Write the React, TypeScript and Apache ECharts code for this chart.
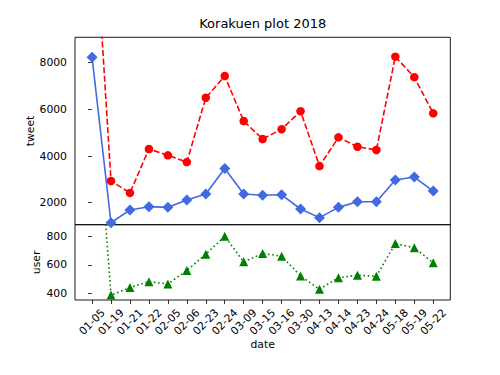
import React, { useEffect, useRef } from "react";
import * as echarts from "echarts";

const categories = [
  "01-05", "01-19", "01-21", "01-22", "02-05", "02-06", "02-23", "02-24", "03-09", "03-15",
  "03-16", "03-30", "04-13", "04-14", "04-23", "04-24", "05-18", "05-19", "05-22",
];
const tweetRed = [
  15900, 2930, 2420, 4300, 4030, 3740, 6500, 7430, 5500, 4730,
  5150, 5920, 3570, 4800, 4400, 4260, 8260, 7380, 5830,
];
const tweetBlue = [
  8230, 1140, 1690, 1830, 1800, 2120, 2370, 3470, 2370, 2320,
  2340, 1730, 1360, 1800, 2040, 2040, 2970, 3100, 2500,
];
const users = [
  2150, 388, 440, 482, 466, 560, 675, 800, 621, 680,
  661, 522, 428, 510, 527, 520, 750, 720, 614,
];
const tweetTicks = [2000, 4000, 6000, 8000];
const userTicks = [400, 600, 800];

const FONT = "DejaVu Sans";
const TXT = "#000";

export default function App() {
  const ref = useRef<HTMLDivElement>(null);
  useEffect(() => {
    document.body.style.margin = "0";
    const chart = echarts.init(ref.current!, null, { renderer: "svg" });
    const idx = categories.map((_, i) => i);
    const toPairs = (arr: number[]) => arr.map((v, i) => [i, v]);
    const tickStyle = { show: true, inside: false, length: 4, lineStyle: { color: "#000", width: 0.8 } };
    const gridBase = {
      left: 75,
      width: 375.3,
      show: true,
      borderColor: "#000",
      borderWidth: 0.9,
      backgroundColor: "transparent",
      containLabel: false,
      outerBoundsMode: "none",
    };
    const nameStyle = { fontFamily: FONT, fontSize: 10.8, color: TXT };
    chart.setOption({
      animation: false,
      textStyle: { fontFamily: FONT },
      title: {
        text: "Korakuen plot 2018",
        left: 262.7,
        top: 17,
        padding: 0,
        textAlign: "center",
        textStyle: { fontFamily: FONT, fontSize: 13, fontWeight: "normal", color: TXT },
      },
      grid: [
        { ...gridBase, top: 37.3, height: 187.4 },
        { ...gridBase, top: 224.7, height: 75.3 },
      ],
      xAxis: [
        {
          type: "value",
          gridIndex: 0,
          min: -0.9,
          max: 18.9,
          axisLine: { show: false },
          axisTick: { show: false },
          axisLabel: { show: false },
          splitLine: { show: false },
        },
        {
          type: "value",
          gridIndex: 1,
          min: -0.9,
          max: 18.9,
          name: "date",
          nameLocation: "middle",
          nameGap: 39,
          nameMoveOverlap: false,
          nameTextStyle: nameStyle,
          axisLine: { show: false },
          axisTick: { ...tickStyle, customValues: idx },
          axisLabel: {
            customValues: idx,
            formatter: (v: number) => categories[Math.round(v)] ?? "",
            rotate: 45,
            align: "center",
            verticalAlign: "middle",
            margin: 22,
            fontFamily: FONT,
            fontSize: 10.8,
            color: TXT,
            showMinLabel: true,
            showMaxLabel: true,
          },
          splitLine: { show: false },
        },
      ],
      yAxis: [
        {
          type: "value",
          gridIndex: 0,
          min: 1057,
          max: 9089,
          name: "tweet",
          nameLocation: "middle",
          nameGap: 39.5,
          nameRotate: 90,
          nameMoveOverlap: false,
          nameTextStyle: nameStyle,
          axisLine: { show: false },
          axisTick: { ...tickStyle, customValues: tweetTicks },
          axisLabel: {
            customValues: tweetTicks,
            formatter: (v: number) => String(v),
            margin: 8,
            fontFamily: FONT,
            fontSize: 10.8,
            color: TXT,
          },
          splitLine: { show: false },
        },
        {
          type: "value",
          gridIndex: 1,
          min: 353,
          max: 882,
          name: "user",
          nameLocation: "middle",
          nameGap: 33.5,
          nameRotate: 90,
          nameMoveOverlap: false,
          nameTextStyle: nameStyle,
          axisLine: { show: false },
          axisTick: { ...tickStyle, customValues: userTicks },
          axisLabel: {
            customValues: userTicks,
            formatter: (v: number) => String(v),
            margin: 8,
            fontFamily: FONT,
            fontSize: 10.8,
            color: TXT,
          },
          splitLine: { show: false },
        },
      ],
      series: [
        {
          name: "tweet",
          type: "line",
          xAxisIndex: 0,
          yAxisIndex: 0,
          data: toPairs(tweetRed),
          clip: true,
          symbol: "circle",
          symbolSize: 8.5,
          lineStyle: { color: "#ff0000", width: 1.6, type: [6, 2.6] },
          itemStyle: { color: "#ff0000" },
        },
        {
          name: "blue",
          type: "line",
          xAxisIndex: 0,
          yAxisIndex: 0,
          data: toPairs(tweetBlue),
          clip: true,
          symbol: "diamond",
          symbolSize: 11,
          lineStyle: { color: "#4169e1", width: 1.6, type: "solid" },
          itemStyle: { color: "#4169e1" },
        },
        {
          name: "user",
          type: "line",
          xAxisIndex: 1,
          yAxisIndex: 1,
          data: toPairs(users),
          clip: true,
          symbol: "triangle",
          symbolSize: 9,
          lineStyle: { color: "#008000", width: 1.6, type: [1.6, 2.7] },
          itemStyle: { color: "#008000" },
        },
      ],
    });
    return () => chart.dispose();
  }, []);
  return <div ref={ref} style={{ width: 500, height: 375 }} />;
}
